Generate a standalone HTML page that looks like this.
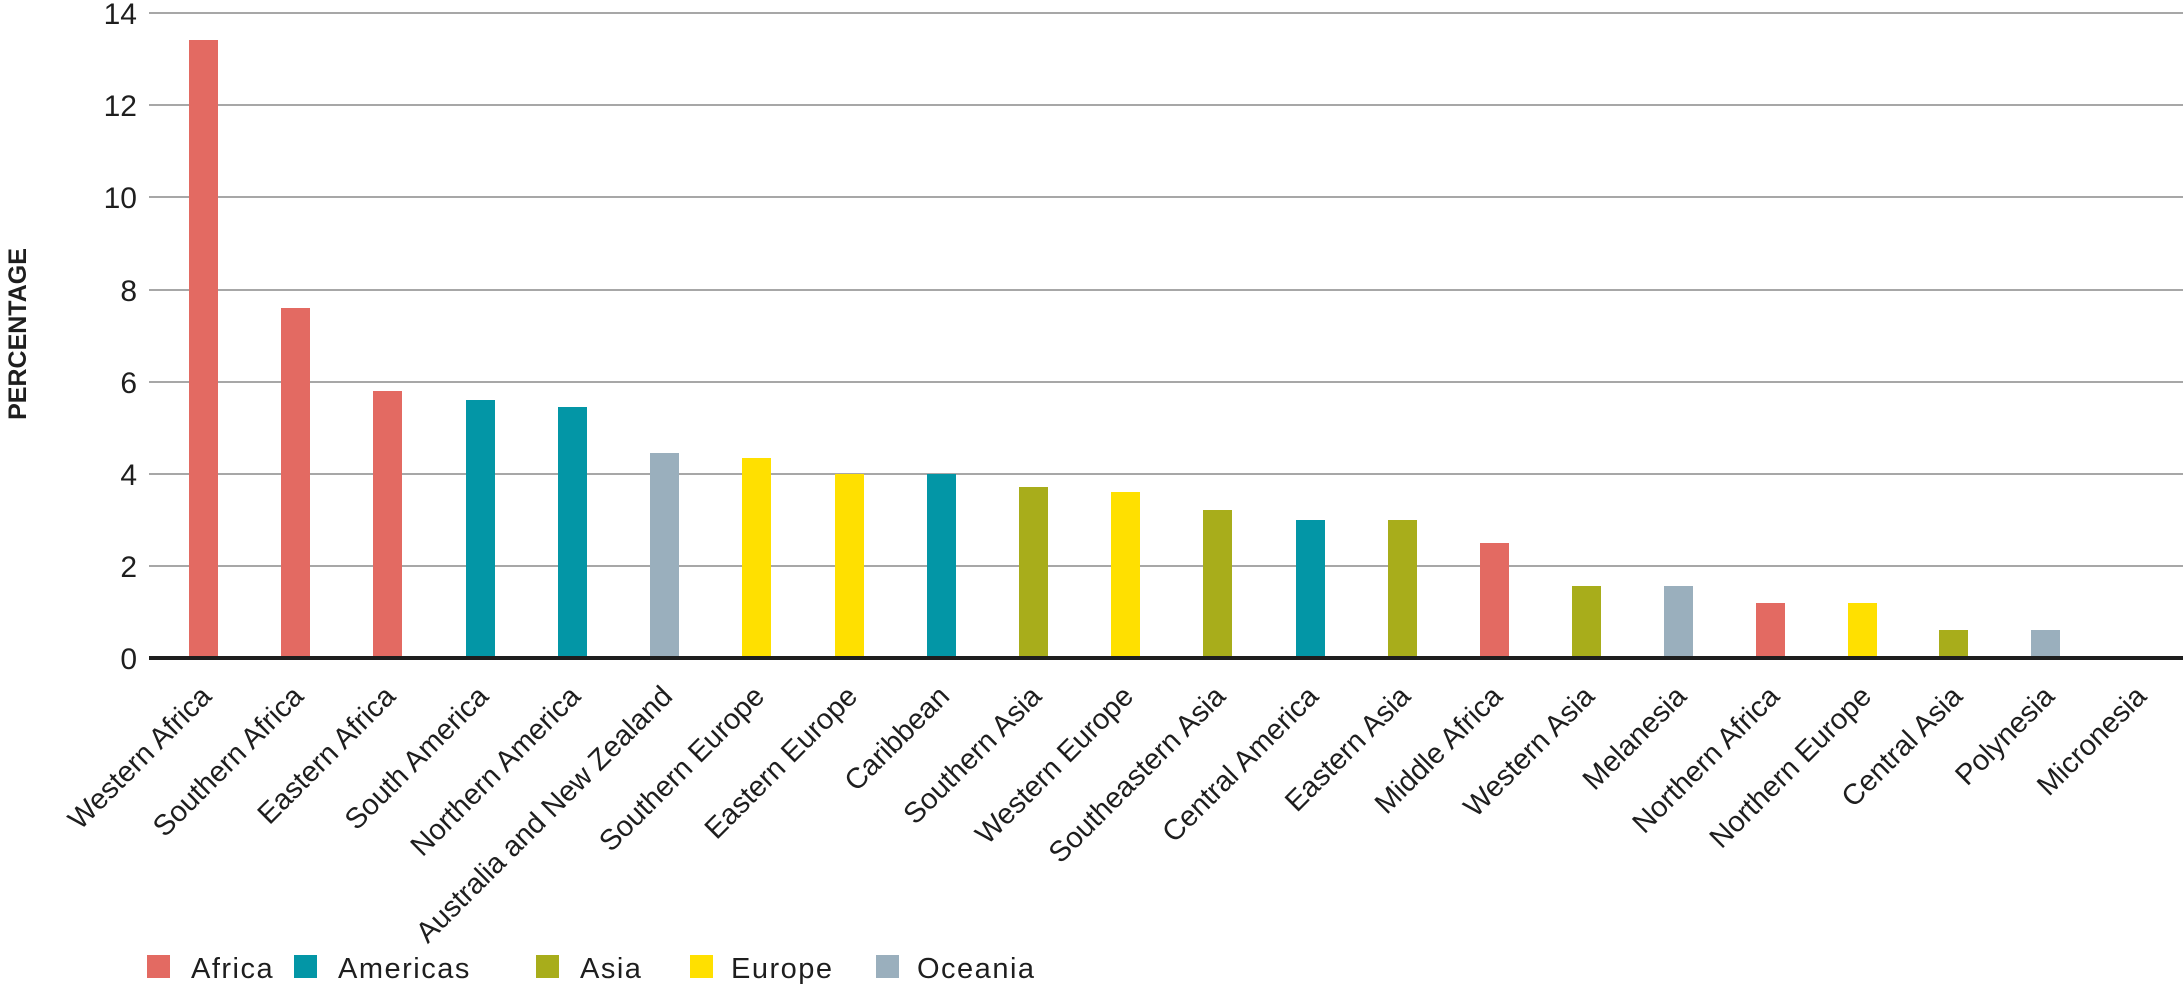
<!DOCTYPE html>
<html><head><meta charset="utf-8"><style>
html,body{margin:0;padding:0;background:#fff;}
svg{display:block;}
text{font-family:"Liberation Sans Narrow","Liberation Sans",sans-serif;fill:#1e1e1e;}
</style></head><body>
<svg width="2183" height="990" viewBox="0 0 2183 990" xmlns="http://www.w3.org/2000/svg">
<g stroke="#8a8a8a" stroke-width="1.5">
<line x1="149" x2="2183" y1="13" y2="13"/>
<line x1="149" x2="2183" y1="105" y2="105"/>
<line x1="149" x2="2183" y1="197" y2="197"/>
<line x1="149" x2="2183" y1="290" y2="290"/>
<line x1="149" x2="2183" y1="382" y2="382"/>
<line x1="149" x2="2183" y1="474" y2="474"/>
<line x1="149" x2="2183" y1="566" y2="566"/>
</g>
<g font-size="30" text-anchor="end">
<text x="137" y="24">14</text>
<text x="137" y="116">12</text>
<text x="137" y="208">10</text>
<text x="137" y="301">8</text>
<text x="137" y="393">6</text>
<text x="137" y="485">4</text>
<text x="137" y="577">2</text>
<text x="137" y="669">0</text>
</g>
<text transform="translate(26,334) rotate(-90)" text-anchor="middle" font-size="25" font-weight="bold">PERCENTAGE</text>
<g>
<rect x="189" y="40" width="29" height="618" fill="#E36A62"/>
<rect x="281" y="308" width="29" height="350" fill="#E36A62"/>
<rect x="373" y="391" width="29" height="267" fill="#E36A62"/>
<rect x="466" y="400" width="29" height="258" fill="#0396A6"/>
<rect x="558" y="407" width="29" height="251" fill="#0396A6"/>
<rect x="650" y="453" width="29" height="205" fill="#9AAFBD"/>
<rect x="742" y="458" width="29" height="200" fill="#FFE000"/>
<rect x="835" y="474" width="29" height="184" fill="#FFE000"/>
<rect x="927" y="474" width="29" height="184" fill="#0396A6"/>
<rect x="1019" y="487" width="29" height="171" fill="#A8AD1B"/>
<rect x="1111" y="492" width="29" height="166" fill="#FFE000"/>
<rect x="1203" y="510" width="29" height="148" fill="#A8AD1B"/>
<rect x="1296" y="520" width="29" height="138" fill="#0396A6"/>
<rect x="1388" y="520" width="29" height="138" fill="#A8AD1B"/>
<rect x="1480" y="543" width="29" height="115" fill="#E36A62"/>
<rect x="1572" y="586" width="29" height="72" fill="#A8AD1B"/>
<rect x="1664" y="586" width="29" height="72" fill="#9AAFBD"/>
<rect x="1756" y="603" width="29" height="55" fill="#E36A62"/>
<rect x="1848" y="603" width="29" height="55" fill="#FFE000"/>
<rect x="1939" y="630" width="29" height="28" fill="#A8AD1B"/>
<rect x="2031" y="630" width="29" height="28" fill="#9AAFBD"/>
</g>
<line x1="149" x2="2183" y1="658" y2="658" stroke="#1e1e1e" stroke-width="4"/>
<g font-size="29" text-anchor="end">
<text transform="translate(213,698) rotate(-45)">Western Africa</text>
<text transform="translate(305,698) rotate(-45)">Southern Africa</text>
<text transform="translate(397,698) rotate(-45)">Eastern Africa</text>
<text transform="translate(490,698) rotate(-45)">South America</text>
<text transform="translate(582,698) rotate(-45)">Northern America</text>
<text transform="translate(674,698) rotate(-45)">Australia and New Zealand</text>
<text transform="translate(766,698) rotate(-45)">Southern Europe</text>
<text transform="translate(859,698) rotate(-45)">Eastern Europe</text>
<text transform="translate(951,698) rotate(-45)">Caribbean</text>
<text transform="translate(1043,698) rotate(-45)">Southern Asia</text>
<text transform="translate(1135,698) rotate(-45)">Western Europe</text>
<text transform="translate(1227,698) rotate(-45)">Southeastern Asia</text>
<text transform="translate(1320,698) rotate(-45)">Central America</text>
<text transform="translate(1412,698) rotate(-45)">Eastern Asia</text>
<text transform="translate(1504,698) rotate(-45)">Middle Africa</text>
<text transform="translate(1596,698) rotate(-45)">Western Asia</text>
<text transform="translate(1688,698) rotate(-45)">Melanesia</text>
<text transform="translate(1781,698) rotate(-45)">Northern Africa</text>
<text transform="translate(1873,698) rotate(-45)">Northern Europe</text>
<text transform="translate(1964,698) rotate(-45)">Central Asia</text>
<text transform="translate(2056,698) rotate(-45)">Polynesia</text>
<text transform="translate(2148,698) rotate(-45)">Micronesia</text>
</g>
<g font-size="29" letter-spacing="1.5">
<rect x="147" y="955" width="23" height="23" fill="#E36A62"/><text x="191" y="978">Africa</text>
<rect x="294" y="955" width="23" height="23" fill="#0396A6"/><text x="338" y="978">Americas</text>
<rect x="536" y="955" width="23" height="23" fill="#A8AD1B"/><text x="580" y="978">Asia</text>
<rect x="690" y="955" width="23" height="23" fill="#FFE000"/><text x="731" y="978">Europe</text>
<rect x="876" y="955" width="23" height="23" fill="#9AAFBD"/><text x="917" y="978">Oceania</text>
</g>
</svg>
</body></html>
